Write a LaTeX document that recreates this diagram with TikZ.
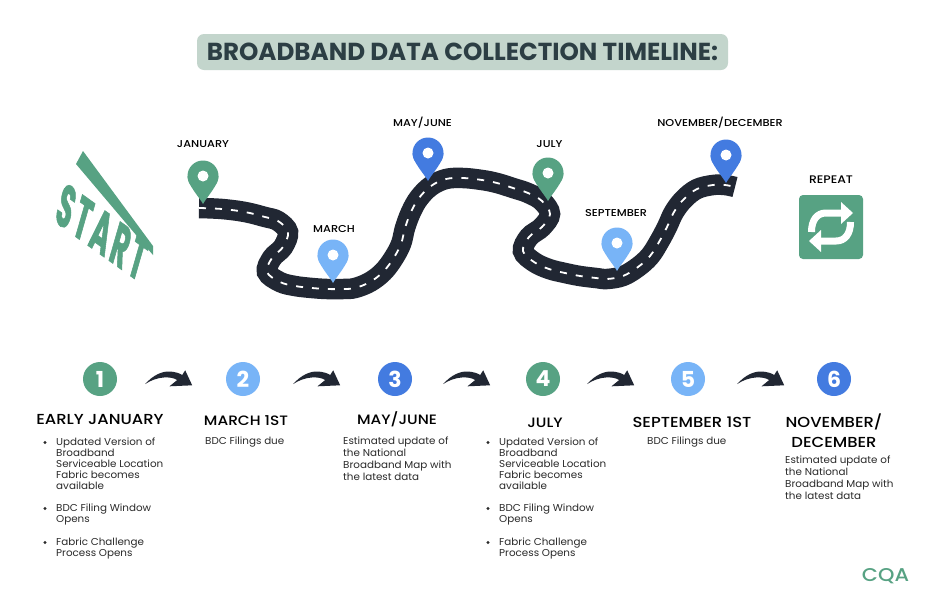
\documentclass[tikz,border=0pt]{standalone}
\usepackage{fontspec}
\usetikzlibrary{calc}
\setmainfont{Poppins}[BoldFont=Poppins Bold]
\newfontfamily\bodyfont{Poppins}[FakeStretch=1.035]
\newfontfamily\medfont{Poppins Medium}[FakeStretch=1.13]
\newfontfamily\startfont{Poppins}[UprightFont=* Bold,FakeStretch=0.5,FakeBold=1,LetterSpace=6]
\definecolor{cgreen}{HTML}{57A283}
\definecolor{clight}{HTML}{78B4F7}
\definecolor{cblue}{HTML}{437BE0}
\definecolor{croad}{HTML}{212733}
\definecolor{cpill}{HTML}{C3D5CC}
\definecolor{ctitle}{HTML}{2C3E44}
\definecolor{ctext}{HTML}{2A2A2A}
\tikzset{
  x=1pt,y=-1pt,
  monthlabel/.style={font=\medfont\fontsize{10}{11}\selectfont,text=black,inner sep=0pt},
  heading/.style={font=\medfont\fontsize{14.5}{20}\selectfont,text=black,inner sep=0pt,align=center},
  shortheading/.style={heading,font=\medfont\fontsize{13.6}{20}\selectfont},
  body/.style={font=\bodyfont\fontsize{10}{11}\selectfont,text=ctext,inner sep=0pt,align=left,anchor=north west},
  bulletdot/.style={fill=ctext,circle,inner sep=0pt,minimum size=3.4pt},
  numcircle/.style={circle,inner sep=0pt,minimum size=34pt,text=white,font=\bfseries\fontsize{22}{22}\selectfont},
}
\newcommand\roadpath{plot[smooth,tension=.6] coordinates {(199,208) (222,209) (245,212) (265,217) (278,221) (288,232) (283,247) (272,258) (267,272) (280,282) (295,286) (312,288) (327,289) (343,289) (355,288) (370,282) (383,272) (393,259) (401,244) (405,228) (411,212) (419,198) (431,186) (446,179) (463,178) (482,180) (497,183) (513,188) (528,193) (542,201) (550,214) (542,227) (529,237) (523,251) (534,262) (549,269) (565,273) (580,276) (596,278) (607,279) (623,276) (638,267) (650,256) (659,242) (667,227) (674,212) (684,199) (697,189) (713,185) (725,185) (735,187)}}
\newcommand\pinmark[3]{%
  \fill[#3] (#1,#2-28) circle (15.5pt);
  \fill[#3] (#1,#2) .. controls (#1-3,#2-6) and (#1-15.5,#2-19) .. (#1-15.5,#2-28) -- (#1+15.5,#2-28) .. controls (#1+15.5,#2-19) and (#1+3,#2-6) .. (#1,#2) -- cycle;
  \fill[white] (#1,#2-28) circle (5.5pt);
}
\newcommand\swoosh[1]{%
  \begin{scope}[shift={(#1)}]
  \fill[croad] (0,0) .. controls (8,-9) and (17,-13) .. (25,-12.5) .. controls (30,-12) and (34,-11) .. (37,-9) -- (40,-13.7) -- (47,1.3) -- (24.3,2.3) -- (32,-4) .. controls (26,-8) and (12,-8) .. (0,0) -- cycle;
  \end{scope}
}
\begin{document}
\begin{tikzpicture}
\useasboundingbox (0,0) rectangle (925,600);
\fill[white] (0,0) rectangle (925,600);
% title
\node[fill=cpill,rounded corners=7pt,minimum width=531pt,minimum height=36pt,inner sep=0pt,text=ctitle,font=\bfseries\fontsize{24.6}{26}\selectfont] (title) at (462.5,52) {BROADBAND DATA COLLECTION TIMELINE:};
% start
\fill[cgreen] (83,151) -- (76,164) -- (153,255) -- (153,246) -- cycle;
\begin{scope}
\clip (40,140) rectangle (153,290);
\node[transform shape,cm={0.81,-0.58,0.276,0.96,(0,0)},inner sep=0pt,text=cgreen,font=\startfont\fontsize{58}{58}\selectfont] (start) at (102,232) {START};
\end{scope}
% road
\draw[croad,line width=20.5pt] \roadpath;
\draw[white,line width=1.8pt,dash pattern=on 7pt off 9pt] \roadpath;
% pins
\pinmark{203}{204}{cgreen}
\pinmark{333}{283}{clight}
\pinmark{428}{181}{cblue}
\pinmark{548}{201}{cgreen}
\pinmark{617}{271}{clight}
\pinmark{726}{183}{cblue}
\node[monthlabel] (mjan) at (203,143.6) {JANUARY};
\node[monthlabel] (mmar) at (334,228.6) {MARCH};
\node[monthlabel] (mmay) at (422.5,122.6) {MAY/JUNE};
\node[monthlabel] (mjul) at (549.5,143.6) {JULY};
\node[monthlabel] (msep) at (616,212.6) {SEPTEMBER};
\node[monthlabel] (mnov) at (720,122.6) {NOVEMBER/DECEMBER};
\node[monthlabel,font=\medfont\fontsize{11}{11}\selectfont] (mrep) at (831,179.6) {REPEAT};
% repeat
\node[fill=cgreen,rounded corners=4pt,minimum size=64pt,inner sep=0pt] (rep) at (831,227) {};
\draw[white,line width=7pt] ($(rep)+(10,-14)$) -- ($(rep)+(-5,-14)$) .. controls ($(rep)+(-14,-14)$) and ($(rep)+(-19.5,-7)$) .. ($(rep)+(-19.5,5)$);
\fill[white] ($(rep)+(10,-25)$) -- ($(rep)+(22,-14)$) -- ($(rep)+(10,-3)$) -- cycle;
\draw[white,line width=7pt] ($(rep)+(-10,14)$) -- ($(rep)+(5,14)$) .. controls ($(rep)+(14,14)$) and ($(rep)+(19.5,7)$) .. ($(rep)+(19.5,-5)$);
\fill[white] ($(rep)+(-10,25)$) -- ($(rep)+(-22,14)$) -- ($(rep)+(-10,3)$) -- cycle;
% step circles
\node[numcircle,fill=cgreen] (n1) at (100,379) {1};
\node[numcircle,fill=clight] (n2) at (243,379) {2};
\node[numcircle,fill=cblue] (n3) at (395,379) {3};
\node[numcircle,fill=cgreen] (n4) at (543,379) {4};
\node[numcircle,fill=clight] (n5) at (688,379) {5};
\node[numcircle,fill=cblue] (n6) at (834,379) {6};
% arrows
\coordinate (a1) at ($(n1.east)+(28,5)$);
\coordinate (a2) at ($(n2.east)+(33,5)$);
\coordinate (a3) at ($(n3.east)+(31,5)$);
\coordinate (a4) at ($(n4.east)+(27,5)$);
\coordinate (a5) at ($(n5.east)+(32,5)$);
\swoosh{a1}\swoosh{a2}\swoosh{a3}\swoosh{a4}\swoosh{a5}
% headings
\node[heading] (h1) at (100,419.5) {EARLY JANUARY};
\node[shortheading] (h2) at (246,420.5) {MARCH 1ST};
\node[shortheading] (h3) at (397,419.5) {MAY/JUNE};
\node[shortheading] (h4) at (545,422.5) {JULY};
\node[heading] (h5) at (692,422.5) {SEPTEMBER 1ST};
\node[heading] (h6) at (834,431) {NOVEMBER/\\DECEMBER};
% bodies
\node[body] (b1a) at (56,438) {Updated Version of\\Broadband\\Serviceable Location\\Fabric becomes\\available};
\node[body] (b1b) at (56,504) {BDC Filing Window\\Opens};
\node[body] (b1c) at (56,538) {Fabric Challenge\\Process Opens};
\node[bulletdot] (d1a) at (45,442.5) {};
\node[bulletdot] (d1b) at (45,508.5) {};
\node[bulletdot] (d1c) at (45,542.5) {};
\node[body] (b2) at (205,437) {BDC Filings due};
\node[body,font=\bodyfont\fontsize{10}{12}\selectfont] (b3) at (343,436.5) {Estimated update of\\the National\\Broadband Map with\\the latest data};
\node[body] (b4a) at (499,438) {Updated Version of\\Broadband\\Serviceable Location\\Fabric becomes\\available};
\node[body] (b4b) at (499,504) {BDC Filing Window\\Opens};
\node[body] (b4c) at (499,538) {Fabric Challenge\\Process Opens};
\node[bulletdot] (d4a) at (488,442.5) {};
\node[bulletdot] (d4b) at (488,508.5) {};
\node[bulletdot] (d4c) at (488,542.5) {};
\node[body] (b5) at (647,437) {BDC Filings due};
\node[body,font=\bodyfont\fontsize{10}{12}\selectfont] (b6) at (785,455.5) {Estimated update of\\the National\\Broadband Map with\\the latest data};
% logo
\node[inner sep=0pt,text=cgreen,font=\medfont\fontsize{18.5}{19}\selectfont] (logo) at (885.5,576.5) {CQA};
\end{tikzpicture}
\end{document}
